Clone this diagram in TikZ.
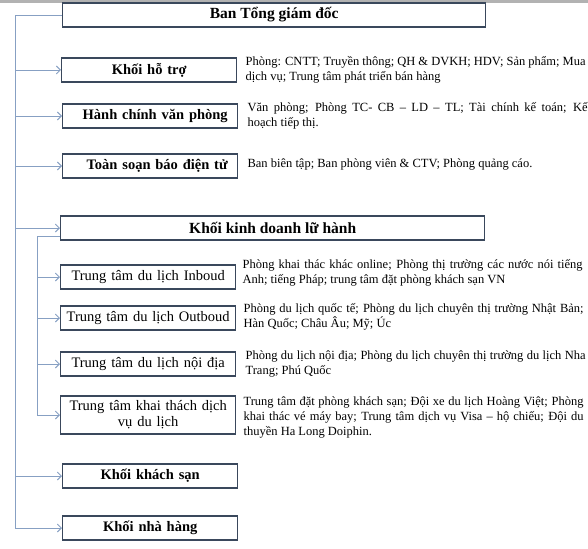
\documentclass[tikz,border=0pt]{standalone}
\usepackage{fontspec}
\setmainfont{Liberation Serif}
\usetikzlibrary{arrows.meta}
\definecolor{boxline}{RGB}{58,72,92}
\definecolor{conn}{RGB}{135,160,195}
\begin{document}
\begin{tikzpicture}[x=1pt, y=-1pt,
  main/.style = {draw=boxline, line width=1.4pt, fill=white, minimum height=24pt, inner sep=2pt, anchor=west},
  big/.style = {main, minimum width=423pt, font=\fontsize{15.5}{17}\selectfont\bfseries},
  unit/.style = {main, text width=171pt, align=center, font=\fontsize{14.5}{16}\selectfont\bfseries},
  centre/.style = {main, text width=171pt, align=center, font=\fontsize{14.5}{16}\selectfont},
  desc/.style = {anchor=west, text width=340pt, align=justify, inner sep=0pt, font=\fontsize{12.5}{15}\selectfont},
  link/.style = {draw=conn, line width=0.9pt},
  arr/.style = {link, -{Straight Barb[length=4pt,width=8pt]}}]
\useasboundingbox (0,0) rectangle (588,548);
\fill[black!30] (0,0) rectangle (588,3);

\node[big] (top) at (62,15) {Ban Tổng giám đốc};
\node[unit] (1) at (61,70) {Khối hỗ trợ};
\node[unit] (2) at (62,116) {\hspace*{10pt}Hành chính\ văn phòng};
\node[unit] (3) at (62,166) {\hspace*{14pt}Toàn soạn báo điện tử};
\node[big, minimum width=424pt] (kd) at (60,228) {Khối kinh doanh lữ hành};
\node[centre] (4) at (60,277) {Trung tâm du lịch Inboud};
\node[centre] (5) at (60,318) {Trung tâm du lịch Outboud};
\node[centre] (6) at (60,364) {Trung tâm du lịch nội địa};
\node[centre, minimum height=38pt] (7) at (60,415) {Trung tâm khai thách dịch\\vụ du lịch};
\node[unit] (8) at (62,476) {Khối khách sạn};
\node[unit] (9) at (62,528) {Khối nhà hàng};

\node[desc] (1d) at ([xshift=8pt]1.east) {Phòng: CNTT; Truyền thông; QH \& DVKH; HDV; Sản phẩm; Mua\linebreak dịch vụ; Trung tâm phát triển bán hàng};
\node[desc] (2d) at ([xshift=9pt]2.east) {Văn phòng; Phòng TC- CB – LD – TL; Tài chính kế toán; Kế\linebreak hoạch tiếp thị.};
\node[desc] (3d) at ([xshift=9pt,yshift=1pt]3.east) {Ban biên tập; Ban phòng viên \& CTV; Phòng quảng cáo.};
\node[desc] (4d) at ([xshift=6pt,yshift=4pt]4.east) {Phòng khai thác khác online; Phòng thị trường các nước nói tiếng\linebreak Anh; tiếng Pháp; trung tâm đặt phòng khách sạn VN};
\node[desc] (5d) at ([xshift=7pt,yshift=1pt]5.east) {Phòng du lịch quốc tế; Phòng du lịch chuyên thị trường Nhật Bản;\linebreak Hàn Quốc; Châu Âu; Mỹ; Úc};
\node[desc] (6d) at ([xshift=9pt]6.east) {Phòng du lịch nội địa; Phòng du lịch chuyên thị trường du lịch Nha\linebreak Trang; Phú Quốc};
\node[desc] (7d) at ([xshift=7pt,yshift=-2pt]7.east) {Trung tâm đặt phòng khách sạn; Đội xe du lịch Hoàng Việt; Phòng\linebreak khai thác vé máy bay; Trung tâm dịch vụ Visa – hộ chiếu; Đội du\linebreak thuyền Ha Long Doiphin.};

\coordinate (a) at (15,0);
\coordinate (b) at (37,0);
\draw[link] (top.west) -| (a |- 9.west);
\foreach \n in {1,2,3,kd,8,9}
  \draw[arr] (a |- \n.west) -- (\n.west);
\draw[link] ([yshift=4pt]kd.south west) -| (b |- 7.west);
\foreach \n in {4,5,6,7}
  \draw[arr] (b |- \n.west) -- (\n.west);
\end{tikzpicture}
\end{document}
